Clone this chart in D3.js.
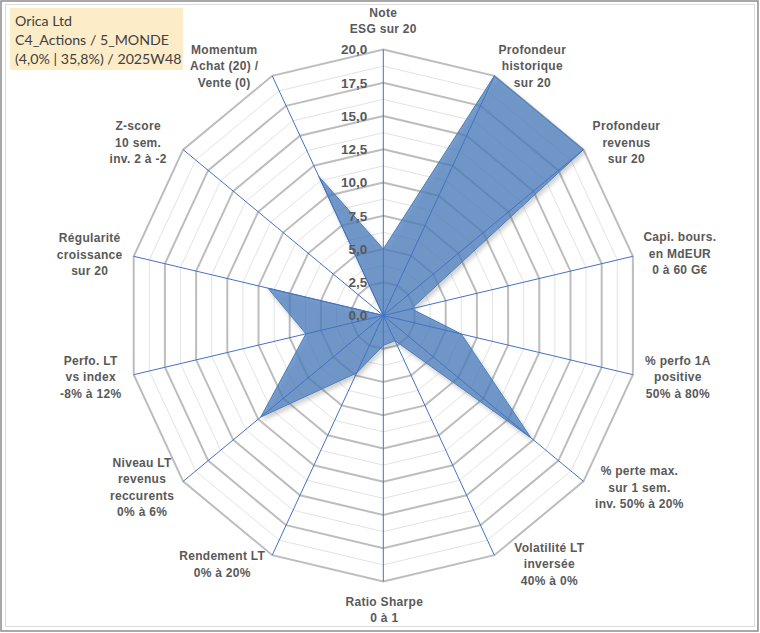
<!DOCTYPE html>
<html>
<head>
<meta charset="utf-8">
<script src="https://cdn.jsdelivr.net/npm/d3@7"></script>
<style>
  body { margin: 0; background: #fff; }
  svg { display: block; }
</style>
</head>
<body>
<svg id="chart" width="760" height="633"></svg>
<script>
const titleLines = ["Orica Ltd", "C4_Actions / 5_MONDE", "(4,0% | 35,8%) / 2025W48"];

const categories = [
  ["Note", "ESG sur 20"],
  ["Profondeur", "historique", "sur 20"],
  ["Profondeur", "revenus", "sur 20"],
  ["Capi. bours.", "en MdEUR", "0 à 60 G€"],
  ["% perfo 1A", "positive", "50% à 80%"],
  ["% perte max.", "sur 1 sem.", "inv. 50% à 20%"],
  ["Volatilité LT", "inversée", "40% à 0%"],
  ["Ratio Sharpe", "0 à 1"],
  ["Rendement LT", "0% à 20%"],
  ["Niveau LT", "revenus", "reccurents", "0% à 6%"],
  ["Perfo. LT", "vs index", "-8% à 12%"],
  ["Régularité", "croissance", "sur 20"],
  ["Z-score", "10 sem.", "inv. 2 à -2"],
  ["Momentum", "Achat (20) /", "Vente (0)"]
];

const values = [5.0, 20, 20, 2.25, 6.25, 14.75, 2.1, 2.25, 4.8, 12.25, 6.2, 9.25, 0, 11.6];

const ticks = [0, 2.5, 5, 7.5, 10, 12.5, 15, 17.5, 20];
const minorTicks = [1.25, 3.75, 6.25, 8.75, 11.25, 13.75, 16.25, 18.75];

// label nudges relative to the end of each axis (layout only)
const labelNudge = [
  [0, -29], [38, -10], [43, -7], [47, -3], [45, 2], [56, 6], [55, 9],
  [1, 28], [-50, 9], [-41, 6], [-43, 2], [-44, -2], [-45, -7], [-48, -10]
];

const svg = d3.select("#chart");
const cx = 383.3, cy = 315.5;

const rx = d3.scaleLinear().domain([0, 20]).range([0, 256]);
const ry = d3.scaleLinear().domain([0, 20]).range([0, 266]);
const angle = d3.scaleLinear()
  .domain([0, categories.length])
  .range([-Math.PI / 2, 1.5 * Math.PI]);

const pt = (i, v) => [cx + rx(v) * Math.cos(angle(i)), cy + ry(v) * Math.sin(angle(i))];
const ring = d3.line().curve(d3.curveLinearClosed);
const fmt = (v) => d3.format(".1f")(v).replace(".", ",");

// frame
svg.append("rect").attr("width", 760).attr("height", 633).attr("fill", "#fff");
svg.append("rect")
  .attr("x", 5.5).attr("y", 4.5).attr("width", 749).attr("height", 622)
  .attr("fill", "none").attr("stroke", "#dcdcdc");
svg.append("rect")
  .attr("x", 1).attr("y", 1).attr("width", 757).attr("height", 630)
  .attr("fill", "none").attr("stroke", "#8c8c8c").attr("stroke-width", 1.5);

const defs = svg.append("defs");
defs.append("filter").attr("id", "shadow")
  .attr("x", "-10%").attr("y", "-10%").attr("width", "120%").attr("height", "120%")
  .append("feDropShadow")
  .attr("dx", 2).attr("dy", 3).attr("stdDeviation", 2)
  .attr("flood-color", "#000").attr("flood-opacity", 0.25);

const g = svg.append("g");

// grid
g.selectAll(".minor")
  .data(minorTicks)
  .enter()
  .append("path")
  .attr("class", "minor")
  .attr("d", (t) => ring(categories.map((c, i) => pt(i, t))))
  .attr("fill", "none")
  .attr("stroke", "#e3e3e3")
  .attr("stroke-width", 1);

g.selectAll(".major")
  .data(ticks.slice(1))
  .enter()
  .append("path")
  .attr("class", "major")
  .attr("d", (t) => ring(categories.map((c, i) => pt(i, t))))
  .attr("fill", "none")
  .attr("stroke", "#bdbdbd")
  .attr("stroke-width", 2);

// series
g.append("path")
  .datum(values)
  .attr("d", ring(values.map((v, i) => pt(i, v))))
  .attr("fill", "#4a7ebb")
  .attr("fill-opacity", 0.74)
  .attr("stroke", "#4a7ebb")
  .attr("stroke-width", 1)
  .attr("filter", "url(#shadow)");

// spokes
g.selectAll(".spoke")
  .data(categories)
  .enter()
  .append("line")
  .attr("class", "spoke")
  .attr("x1", cx).attr("y1", cy)
  .attr("x2", (d, i) => pt(i, 20)[0])
  .attr("y2", (d, i) => pt(i, 20)[1])
  .attr("stroke", "#4472c4")
  .attr("stroke-width", 1);

// tick labels
g.selectAll(".tick")
  .data(ticks)
  .enter()
  .append("text")
  .attr("class", "tick")
  .attr("x", cx - 16)
  .attr("y", (t) => cy - ry(t))
  .attr("dy", "0.36em")
  .attr("text-anchor", "end")
  .attr("font-family", "'Liberation Sans', Arial, sans-serif")
  .attr("font-weight", "bold")
  .attr("font-size", 13.5)
  .attr("fill", "#595959")
  .text(fmt);

// axis labels
const lh = 16.5;
const lab = g.selectAll(".lab")
  .data(categories)
  .enter()
  .append("text")
  .attr("class", "lab")
  .attr("text-anchor", "middle")
  .attr("font-family", "'Liberation Sans', Arial, sans-serif")
  .attr("font-weight", "bold")
  .attr("font-size", 12)
  .attr("letter-spacing", 0.3)
  .attr("fill", "#595959");

lab.each(function (lines, i) {
  const [ex, ey] = pt(i, 20);
  const x = ex + labelNudge[i][0];
  const y0 = ey + labelNudge[i][1] - ((lines.length - 1) * lh) / 2;
  d3.select(this)
    .selectAll("tspan")
    .data(lines)
    .enter()
    .append("tspan")
    .attr("x", x)
    .attr("y", (d, k) => y0 + k * lh)
    .attr("dy", "0.36em")
    .text((d) => d);
});

// title box
svg.append("rect")
  .attr("x", 10).attr("y", 8).attr("width", 173).attr("height", 62)
  .attr("fill", "#fdecc8");
svg.selectAll(".title")
  .data(titleLines)
  .enter()
  .append("text")
  .attr("class", "title")
  .attr("x", 15)
  .attr("y", (d, i) => 21 + i * 19)
  .attr("dy", "0.36em")
  .attr("font-family", "Lato, 'Open Sans', sans-serif")
  .attr("font-size", 14.2)
  .attr("fill", "#404040")
  .text((d) => d);
</script>
</body>
</html>
